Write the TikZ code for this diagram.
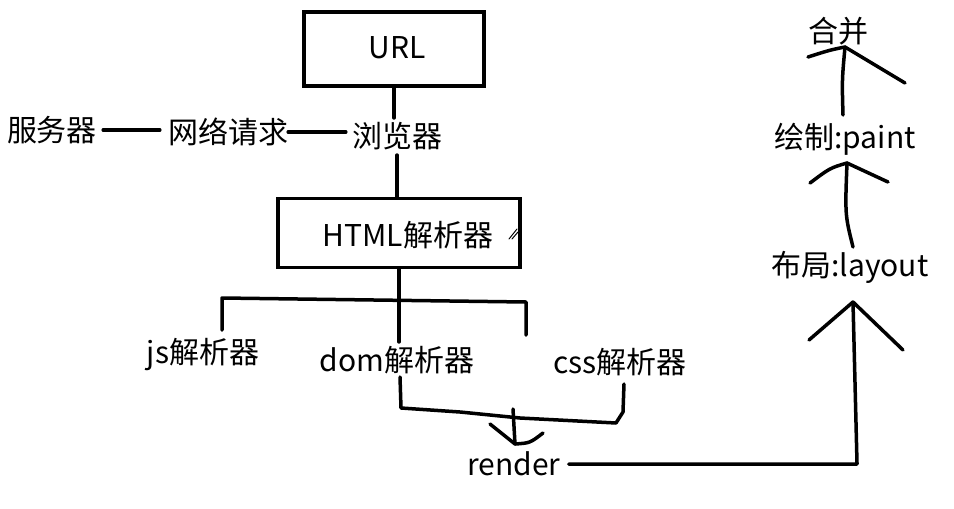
\documentclass[tikz,border=0pt]{standalone}
\usepackage{fontspec}
\setmainfont{Noto Sans CJK SC}
\begin{document}
\begin{tikzpicture}[x=1pt,y=-1pt,
  ln/.style={line width=3.5pt, line cap=round, line join=round},
  lbl/.style={font=\fontsize{30}{35}\selectfont, inner sep=0pt},
  boxnode/.style={draw, line width=3.5pt, inner sep=0pt}]
\useasboundingbox (0,0) rectangle (954,509);
% nodes
\node[boxnode, minimum width=180pt, minimum height=74pt] (url) at (394,49) {};
\node[lbl] (urlt) at (397,48) {URL};
\node[lbl] (browser) at (397,136) {浏览器};
\node[lbl] (net) at (228,132) {网络请求};
\node[lbl] (server) at (52,130) {服务器};
\node[boxnode, minimum width=242pt, minimum height=69pt] (html) at (399,233) {};
\node[lbl] (htmlt) at (408,235) {HTML解析器};
\node[lbl] (js) at (203,355) {js解析器};
\node[lbl] (dom) at (397,360) {dom解析器};
\node[lbl] (css) at (620,362) {css解析器};
\node[lbl] (render) at (514,464) {render};
\node[lbl] (layout) at (850,267) {布局:layout};
\node[lbl] (paint) at (845,139) {绘制:paint};
\node[lbl] (merge) at (838,31) {合并};
% small pencil mark
\draw[line width=1pt, line cap=round] (509,239) -- (517,229) (512,239) -- (518,232);
% top connectors
\draw[ln, shorten >=4pt] (url.south) -- (url.south |- browser.north);
\draw[ln, shorten <=5pt] (browser.south) -- (browser.south |- html.north);
\draw[ln, shorten <=6pt, shorten >=8pt] (server.east) -- (server.east -| net.west);
\draw[ln, shorten >=6pt] (net.east) -- (net.east -| browser.west);
% tree
\coordinate (jtop) at (222,330);
\coordinate (jbar) at (222,298);
\coordinate (cbar) at (526,302);
\coordinate (ctop) at (526,335);
\draw[ln, shorten >=4pt] (html.south) -- (html.south |- dom.north);
\draw[ln] (jtop) -- (jbar) -- (cbar) -- (ctop);
% bracket dom + css -> render
\coordinate (db) at (400,377);
\coordinate (cb) at (624,384);
\draw[ln] (db) -- (401,408) -- (460,412) -- (520,418) -- (616,423) -- (623,412) -- (cb);
\coordinate (rtip) at (515,444);
\draw[ln] (513,409) -- (rtip);
\draw[ln] (490,424) -- (rtip) .. controls (530,443) .. (543,433);
% render -> layout
\coordinate (corner) at (857,463);
\coordinate (ltip) at (853,302);
\draw[ln, shorten <=8pt] (render.east) -- (render.east -| corner) -- (corner) -- (ltip);
\draw[ln] (809,340) -- (ltip) -- (903,350);
% layout -> paint
\coordinate (ptip) at (847,163);
\draw[ln] (853,247) .. controls (845,215) .. (ptip);
\draw[ln] (810,183) .. controls (830,168) .. (ptip) .. controls (868,172) .. (888,182);
% paint -> merge
\coordinate (mtip) at (845,47);
\draw[ln] (843,115) .. controls (842,80) .. (mtip);
\draw[ln] (808,57) .. controls (830,50) .. (mtip) .. controls (870,62) .. (905,83);
\end{tikzpicture}
\end{document}
